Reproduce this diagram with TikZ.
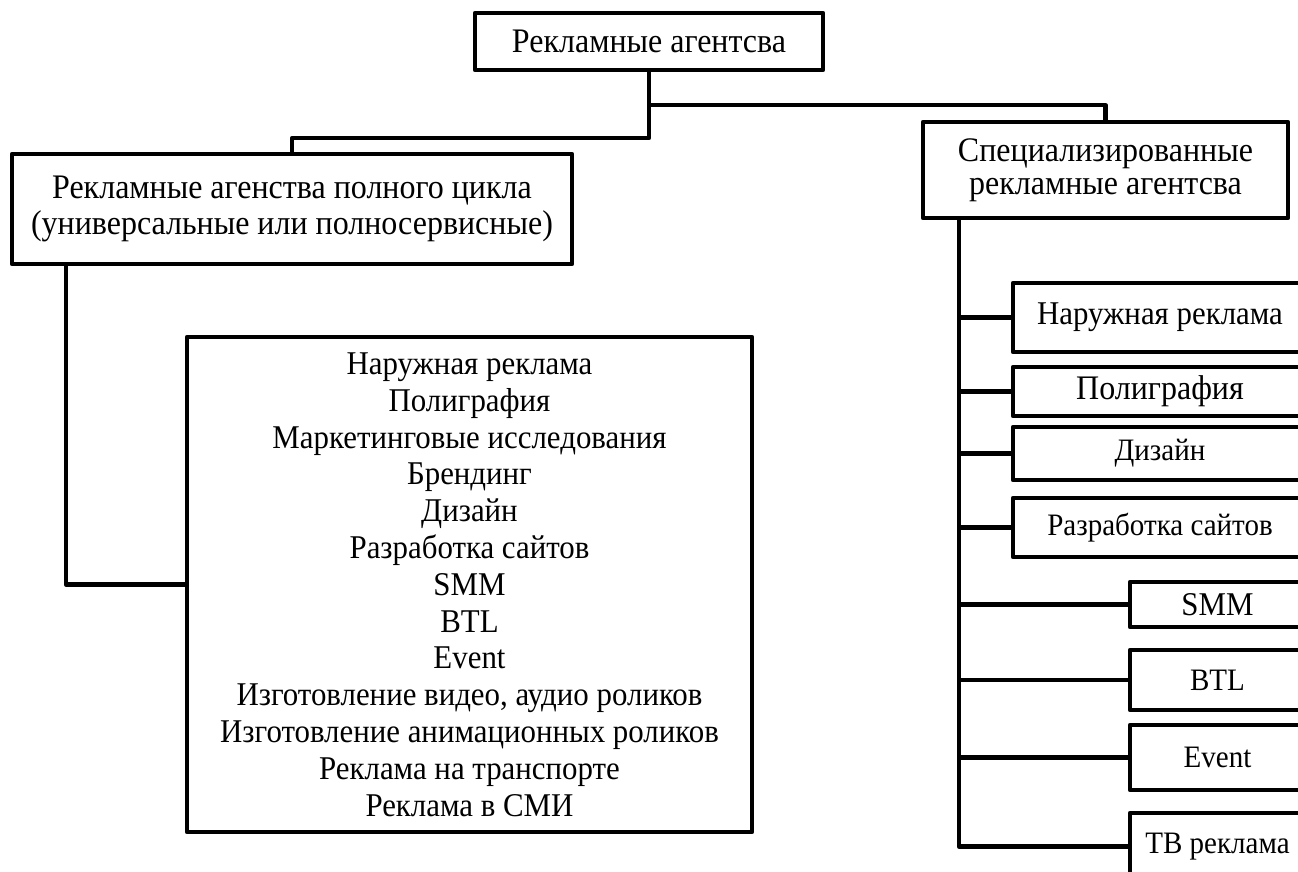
\documentclass[tikz,border=0pt]{standalone}
\usepackage{fontspec}
\setmainfont{Liberation Serif}[FakeStretch=0.93]
\usepackage{tikz}
\usetikzlibrary{positioning,calc}

\begin{document}
\begin{tikzpicture}[
  x=0.5pt, y=-0.5pt,
  box/.style={
    draw, line width=2.2pt, line join=round, inner sep=0pt,
    align=center, font=\fontsize{16.6}{18.4}\selectfont
  },
  bigtext/.style={font=\fontsize{17.2}{18}\selectfont},
  smalltext/.style={font=\fontsize{15.6}{17}\selectfont},
  link/.style={line width=2.2pt, line join=round}
]
  \useasboundingbox (0,0) rectangle (1298,872);
  \clip (0,0) rectangle (1298,872);

  \node[box, bigtext, minimum width=174pt, minimum height=28.5pt] (top) at (649,41.5)
    {Рекламные агентсва};
  \node[box, bigtext, minimum width=280pt, minimum height=55pt] (full) at (292,209)
    {Рекламные агенства полного цикла\\(универсальные или полносервисные)};
  \node[box, minimum width=282.5pt, minimum height=247.5pt] (list) at (469.5,584.5)
    {Наружная реклама\\Полиграфия\\Маркетинговые исследования\\Брендинг\\Дизайн\\
     Разработка сайтов\\SMM\\BTL\\Event\\Изготовление видео, аудио роликов\\
     Изготовление анимационных роликов\\Реклама на транспорте\\Реклама в СМИ};
  \node[box, font=\fontsize{17.2}{16.5}\selectfont, minimum width=182.5pt, minimum height=48pt]
    (spec) at (1105.5,170) {Специализированные\\рекламные агентсва};

  % specialised branches
  \node[box, minimum width=147pt, minimum height=34.5pt] (outdoor) at (1160,317.5) {Наружная реклама};
  \node[box, bigtext, minimum width=147pt, minimum height=24.5pt] (print) at (1160,391.5) {Полиграфия};
  \node[box, smalltext, minimum width=147pt, minimum height=26.5pt] (design) at (1160,453.5) {Дизайн};
  \node[box, smalltext, minimum width=147pt, minimum height=29.5pt] (web) at (1160,527.5) {Разработка сайтов};
  \node[box, minimum width=87.5pt, minimum height=22.5pt] (smm) at (1217.5,604.5) {SMM};
  \node[box, smalltext, minimum width=87.5pt, minimum height=30pt] (btl) at (1217.5,680) {BTL};
  \node[box, smalltext, minimum width=87.5pt, minimum height=32.5pt] (event) at (1217.5,757.5) {Event};
  \node[box, smalltext, minimum width=87.5pt, minimum height=33.5pt] (tv) at (1217.5,846.5) {ТВ реклама};

  \draw[link] (top.south) -- ++(0,33) -| (spec.north);
  \draw[link] (top.south) -- ++(0,66) -| (full.north);
  \draw[link] ([xshift=28pt]full.south west) |- (list.west);

  \coordinate (spine) at ([xshift=19pt]spec.south west);
  \draw[link] (spine) |- (tv.west);
  \foreach \n in {outdoor,print,design,web,smm,btl,event}
    \draw[link] (spine |- \n.west) -- (\n.west);
\end{tikzpicture}
\end{document}
